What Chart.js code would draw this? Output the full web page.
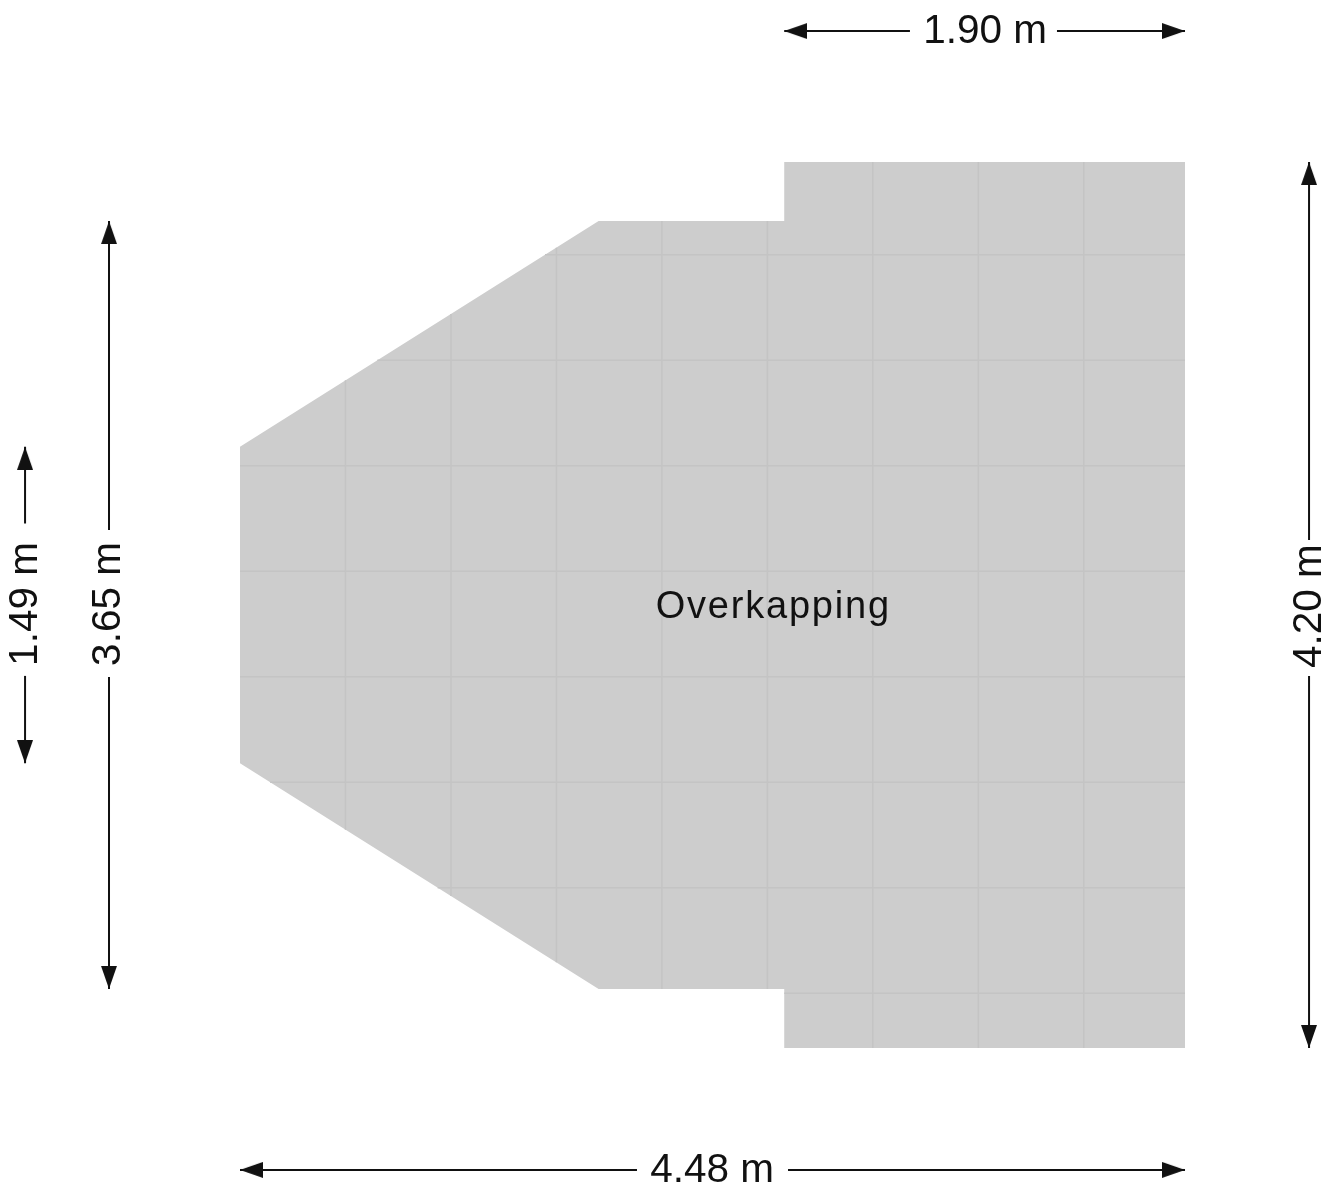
<!DOCTYPE html>
<html>
<head>
<meta charset="utf-8">
<title>Overkapping</title>
<script src="https://cdn.jsdelivr.net/npm/chart.js@4/dist/chart.umd.min.js"></script>
<style>
  html, body { margin: 0; padding: 0; background: #fff; }
  canvas { display: block; }
</style>
</head>
<body>
<canvas id="plan" width="1327" height="1191"></canvas>
<script>
// floor outline, metres from the bottom-left corner of the plan
const outlineX = [0, 1.70, 2.58, 2.58, 4.48, 4.48, 2.58, 2.58, 1.70, 0, 0];
const outlineY = [2.85, 3.92, 3.92, 4.20, 4.20, 0, 0, 0.28, 0.28, 1.35, 2.85];

// tile joints
const jointX = [0.5, 1.0, 1.5, 2.0, 2.5, 3.0, 3.5, 4.0];
const jointXBottom = [1.035, 0.72, 0.406, 0.28, 0.28, 0, 0, 0];
const jointXTop = [3.165, 3.48, 3.794, 3.92, 3.92, 4.20, 4.20, 4.20];
const jointY = [0.26, 0.76, 1.26, 1.76, 2.26, 2.76, 3.26, 3.76];
const jointYStart = [2.58, 0.937, 0.143, 0, 0, 0, 0.651, 1.446];

// dimension arrows: axis, position across, both tips, gap left for the label
const dimLabels = ['1.90 m', '4.48 m', '1.49 m', '3.65 m', '4.20 m'];
const dimAxis = ['x', 'x', 'y', 'y', 'y'];
const dimCross = [4.821, -0.578, -1.019, -0.621, 5.068];
const dimFrom = [2.58, 0, 1.35, 0.28, 0];
const dimTo = [4.48, 4.48, 2.85, 3.92, 4.20];
const dimGapFrom = [3.176, 1.882, 1.764, 1.759, 1.764];
const dimGapTo = [3.873, 2.598, 2.486, 2.456, 2.408];
const dimLabelAt = [3.532, 2.238, 2.105, 2.105, 2.095];
const dimLabelCross = [4.815, -0.583, -1.014, -0.622, 5.072];

const roomLabel = 'Overkapping';
const roomLabelX = 2.528;
const roomLabelY = 2.09;

const PX_PER_M = 210.94;
const FLOOR = '#cdcdcd';
const JOINT = '#c4c4c4';
const INK = '#111111';

// arrow head sprite, tip sits in the centre so the point lands on the line end
function arrowHead() {
  const c = document.createElement('canvas');
  c.width = 16;
  c.height = 46;
  const g = c.getContext('2d');
  g.fillStyle = INK;
  g.beginPath();
  g.moveTo(8, 23);
  g.lineTo(16, 46);
  g.lineTo(0, 46);
  g.closePath();
  g.fill();
  return c;
}
const head = arrowHead();

function lineSet(points, color, width) {
  return {
    data: points,
    showLine: true,
    borderColor: color,
    borderWidth: width,
    pointRadius: 0,
    tension: 0,
  };
}

const datasets = [];

// order: floor has to go under the joints
datasets.push({
  ...lineSet(outlineX.map((x, i) => ({ x, y: outlineY[i] })), FLOOR, 0),
  fill: 'shape',
  backgroundColor: FLOOR,
  order: 10,
});

jointX.forEach((x, i) => {
  datasets.push(lineSet([{ x, y: jointXBottom[i] }, { x, y: jointXTop[i] }], JOINT, 1.5));
});
jointY.forEach((y, i) => {
  datasets.push(lineSet([{ x: jointYStart[i], y }, { x: 4.48, y }], JOINT, 1.5));
});

function dimPoint(i, along) {
  return dimAxis[i] === 'x' ? { x: along, y: dimCross[i] } : { x: dimCross[i], y: along };
}

dimLabels.forEach((_, i) => {
  const horizontal = dimAxis[i] === 'x';
  [
    [dimFrom[i], dimGapFrom[i], horizontal ? 270 : 180],
    [dimTo[i], dimGapTo[i], horizontal ? 90 : 0],
  ].forEach(([tip, gap, rotation]) => {
    datasets.push({
      ...lineSet([dimPoint(i, tip), dimPoint(i, gap)], INK, 2),
      pointStyle: head,
      pointRadius: [8, 0],
      pointRotation: rotation,
    });
  });
});

const labelPlugin = {
  id: 'planLabels',
  afterDatasetsDraw(chart) {
    const { ctx, scales } = chart;
    ctx.save();
    ctx.fillStyle = INK;
    ctx.textAlign = 'center';
    ctx.textBaseline = 'middle';
    ctx.font = '40.5px "Liberation Sans"';
    dimLabels.forEach((text, i) => {
      const p = dimAxis[i] === 'x'
        ? { x: dimLabelAt[i], y: dimLabelCross[i] }
        : { x: dimLabelCross[i], y: dimLabelAt[i] };
      ctx.save();
      ctx.translate(scales.x.getPixelForValue(p.x), scales.y.getPixelForValue(p.y));
      if (dimAxis[i] === 'y') ctx.rotate(-Math.PI / 2);
      ctx.fillText(text, 0, 0);
      ctx.restore();
    });
    ctx.font = '38px "Liberation Sans"';
    ctx.letterSpacing = '1.8px';
    ctx.fillText(roomLabel, scales.x.getPixelForValue(roomLabelX), scales.y.getPixelForValue(roomLabelY));
    ctx.restore();
  },
};

new Chart(document.getElementById('plan'), {
  type: 'scatter',
  data: { datasets },
  plugins: [labelPlugin],
  options: {
    responsive: false,
    animation: false,
    devicePixelRatio: 1,
    layout: { padding: 0, autoPadding: false },
    events: [],
    plugins: { legend: { display: false }, tooltip: { enabled: false } },
    scales: {
      x: { type: 'linear', display: false, min: -240 / PX_PER_M, max: (1327 - 240) / PX_PER_M },
      y: { type: 'linear', display: false, min: -143 / PX_PER_M, max: 1048 / PX_PER_M },
    },
  },
});
</script>
</body>
</html>
